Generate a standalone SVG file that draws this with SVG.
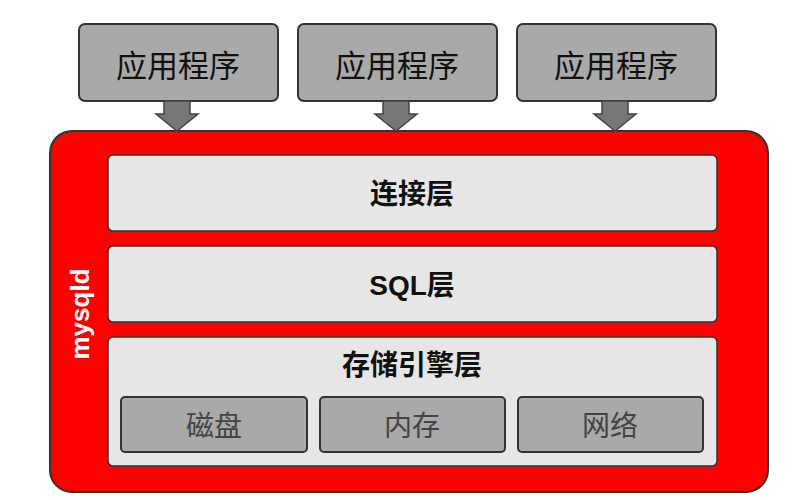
<svg xmlns="http://www.w3.org/2000/svg" width="797" height="500" viewBox="0 0 797 500">
<style>
.app{fill:#a9a9a9;stroke:#333;stroke-width:2}
.layer{fill:#e6e6e6;stroke:#333;stroke-width:1.5}
.sub{fill:#a9a9a9;stroke:#333;stroke-width:2}
.t{font-family:"Liberation Sans","Noto Sans CJK SC",sans-serif;text-anchor:middle}
.arr{fill:#777;stroke:#444;stroke-width:1.5}
</style>
<rect width="797" height="500" fill="#fff"/>
<g id="apps">
<g id="app1"><rect class="app" x="79" y="24" width="199" height="77" rx="6"/><text class="t" x="178" y="77" font-size="31" fill="#111">应用程序</text></g>
<g id="app2"><rect class="app" x="298" y="24" width="199" height="77" rx="6"/><text class="t" x="397" y="77" font-size="31" fill="#111">应用程序</text></g>
<g id="app3"><rect class="app" x="517" y="24" width="199" height="77" rx="6"/><text class="t" x="616" y="77" font-size="31" fill="#111">应用程序</text></g>
</g>
<g id="mysqld">
<rect x="50" y="131" width="718" height="361" rx="22" fill="#ff0000" stroke="#333" stroke-width="2"/>
<text class="t" transform="translate(89,314) rotate(-90)" font-size="26" font-weight="bold" fill="#fff">mysqld</text>
</g>
<g id="connectors">
<polygon class="arr" points="164,101 190,101 190,114 198,114 177,131 156,114 164,114"/>
<polygon class="arr" points="383,101 409,101 409,114 417,114 396,131 375,114 383,114"/>
<polygon class="arr" points="602,101 628,101 628,114 636,114 615,131 594,114 602,114"/>
</g>
<g id="conn-layer"><rect class="layer" x="108" y="155" width="609" height="76" rx="5"/><text class="t" x="412" y="204" font-size="28" font-weight="bold" fill="#111">连接层</text></g>
<g id="sql-layer"><rect class="layer" x="108" y="246" width="609" height="76" rx="5"/><text class="t" x="412" y="295" font-size="28" font-weight="bold" fill="#111">SQL层</text></g>
<g id="engine-layer"><rect class="layer" x="108" y="337" width="609" height="129" rx="5"/><text class="t" x="412" y="375" font-size="28" font-weight="bold" fill="#111">存储引擎层</text></g>
<g id="disk"><rect class="sub" x="121" y="397" width="186" height="55" rx="4"/><text class="t" x="214" y="436" font-size="28" fill="#444">磁盘</text></g>
<g id="mem"><rect class="sub" x="320" y="397" width="185" height="55" rx="4"/><text class="t" x="412" y="436" font-size="28" fill="#444">内存</text></g>
<g id="net"><rect class="sub" x="518" y="397" width="185" height="55" rx="4"/><text class="t" x="610" y="436" font-size="28" fill="#444">网络</text></g>
</svg>
